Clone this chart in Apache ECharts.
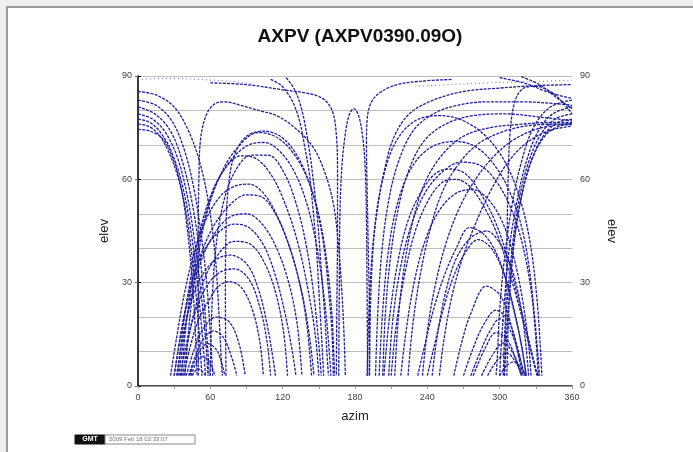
<!DOCTYPE html>
<html><head><meta charset="utf-8">
<script src="https://cdn.jsdelivr.net/npm/echarts@6/dist/echarts.min.js"></script>
<style>html,body{margin:0;padding:0;background:#efefef}#c{width:693px;height:452px}</style>
</head><body><div id="c"></div>
<script>
const chartTitle = 'AXPV (AXPV0390.09O)';
const xTicks = [0, 60, 120, 180, 240, 300, 360];
const yTicks = [0, 30, 60, 90];
const stamp = '2009 Feb 18 02:33:07';

// satellite tracks: [azimuth, elevation]
const leftFunnel = [
 [[0,74.5],[10,74],[20,72],[28,67],[35,59],[40,48],[44,35],[47,20],[49,3]],
 [[0,76],[8,75.5],[16,73.5],[24,69],[32,62],[39,52],[44,40],[48,27],[51,14],[53,3]],
 [[0,77.5],[10,76.5],[20,73],[29,67],[37,58],[43,47],[48,34],[52,20],[55,8],[56,3]],
 [[0,79],[12,77.5],[23,73.5],[33,66],[41,55],[47,42],[52,28],[56,14],[58,3]],
 [[0,81],[14,79],[27,74],[37,65],[45,53],[51,39],[55,24],[58,10],[59,3]],
 [[0,83],[15,81.5],[28,77],[38,69],[46,58],[52,45],[57,30],[60,15],[62,3]],
 [[0,85.5],[15,84.5],[30,81],[42,74],[52,64],[59,52],[64,38],[67,22],[69,8],[70,3]]
];
const leftArches = [
 [[30,3],[34,12],[39,22],[46,32],[56,40],[68,45],[80,47],[92,46],[104,41],[114,32],[122,21],[128,10],[131,3]],
 [[34,3],[38,14],[44,26],[52,36],[63,44],[76,49],[90,50],[103,47],[115,40],[125,30],[132,18],[136,3]],
 [[37,3],[41,12],[47,22],[55,31],[66,38],[80,42],[94,41],[106,35],[115,26],[121,15],[124,3]],
 [[32,3],[36,12],[42,22],[50,30],[62,36],[76,38],[90,35.5],[100,28],[107,18],[112,8],[114,3]],
 [[35,3],[40,12],[47,21],[57,29],[68,33],[80,34],[92,31],[101,23],[107,13],[110,3]],
 [[38,3],[43,11],[50,19],[59,25],[67,29],[76,30.3],[86,28.5],[95,22],[101,13],[104,3]],
 [[40,3],[46,10],[53,16],[65,20],[76,18.5],[84,12],[89,3]],
 [[42,3],[48,9],[55,14],[62.5,16],[71,14],[78,8],[82,3]],
 [[43,3],[48,8],[58,12.3],[66,10],[72,3]],
 [[44,3],[48,6.5],[53,8.5],[59,7],[64,3]],
 [[45,3],[50,5],[56,3]]
];
const bigLeftArches = [
 [[27,3],[32,14],[38,26],[46,38],[56,48],[68,55],[80,58],[92,58.6],[104,56],[116,49],[127,39],[136,27],[142,15],[146,3]],
 [[30,3],[35,14],[42,26],[51,37],[62,46],[76,52.5],[90,55.5],[102,55],[114,50],[125,41],[134,30],[140,18],[144,3]],
 [[33,3],[37,16],[43,30],[50,43],[60,55],[72,63],[85,66.8],[98,66],[111,61],[123,52],[133,41],[141,28],[147,15],[150,3]],
 [[36,3],[40,18],[46,33],[54,47],[64,58],[78,66],[92,70],[105,70.7],[118,68],[130,62],[140,53],[148,41],[154,27],[158,13],[160,3]],
 [[39,3],[43,20],[49,36],[57,50],[68,61],[82,69],[100,73.6],[116,72],[130,67],[142,59],[151,48],[157,35],[161,20],[163,3]],
 [[60,3],[61,20],[64,38],[70,52],[80,62],[94,67],[108,67],[121,62],[132,52],[140,40],[146,26],[150,12],[152,3]],
 [[50,3],[50,25],[50,46],[50.5,60],[52,72],[57,79],[64,82],[72,82.5],[85,81.5],[100,80],[115,78.5],[130,75],[145,69.5],[155,62],[162,53],[166,42],[169,28],[171,14],[172,3]],
 [[73,3],[72.5,25],[73,45],[75,58],[80,67],[90,72.5],[104,74],[118,72.5],[130,68],[140,61],[148,52],[154,41],[158,28],[161,15],[162,3]]
];
const centerTracks = [
 [[60,88],[90,87.5],[120,86],[140,85],[153,83.5],[161,80],[164.5,73],[165.5,62],[165.5,45],[165,25],[164.5,3]],
 [[260,89],[235,88.5],[215,87.5],[200,85],[193,82],[190,77],[189.5,70],[190,58],[191,40],[192,20],[192,3]],
 [[166.5,3],[167,30],[167.5,50],[169,63],[171.5,72],[175,78.5],[179,80.5],[183,78.5],[186.5,72],[188.5,63],[189.5,48],[190,28],[190.5,3]]
];
const descending = [
 [[110,89],[118,87.5],[124,85],[129,82],[134,77],[138,70],[142,62],[145,52],[148,40],[150,28],[152,16],[154,3]],
 [[123,89.5],[130,86],[136,80],[141,71],[145,61],[149,48],[152,34],[155,20],[157,8],[158,3]]
];
const rightRising = [
 [[192,3],[193,25],[195,40],[198,50],[204,62],[212,72],[225,79],[245,83],[270,85.5],[300,86.5],[330,87.2],[360,87.5]],
 [[197,3],[199,22],[202,38],[207,52],[215,64],[228,74],[245,79],[265,81.5],[290,82.5],[320,82.5],[345,82],[360,81.5]],
 [[203,3],[205,20],[209,36],[215,50],[224,62],[237,71],[255,76],[278,78.5],[305,79],[335,78],[360,77]],
 [[213,3],[216,20],[221,35],[228,48],[238,59],[252,67],[270,72.5],[292,75],[318,76],[340,76.5],[360,76.5]],
 [[224,3],[228,18],[234,32],[242,45],[252,56],[265,64],[281,70],[300,73.5],[322,75.5],[345,76],[360,76]],
 [[236,3],[240,16],[247,30],[256,42],[267,52],[280,60],[296,67],[314,72],[335,75],[360,76.2]],
 [[250,3],[254,14],[261,27],[270,38],[281,48],[293,57],[307,65],[322,70.5],[340,74],[360,75.5]]
];
const bigRightArches = [
 [[204,3],[208,18],[215,35],[224,48],[236,57],[248,62],[260,63],[272,61.5],[284,56],[296,48],[306,38],[315,26],[323,15],[330,5],[332,3]],
 [[210,3],[214,17],[221,32],[230,45],[241,54],[252,59],[263,60],[275,58],[287,52],[298,44],[308,33],[317,22],[325,11],[331,3]],
 [[208,3],[211,18],[217,33],[226,46],[238,56],[252,62],[268,65],[284,64],[298,59],[310,51],[319,41],[326,28],[330,14],[332,3]],
 [[218,3],[222,15],[229,30],[238,42],[250,51],[264,56],[278,57],[291,54],[303,47],[312,37],[319,25],[324,12],[326,3]],
 [[200,3],[203,22],[208,40],[216,54],[228,64],[244,69.5],[264,71],[282,69],[298,63],[310,55],[319,45],[325,33],[329,20],[332,8],[333,3]],
 [[190,3],[192,25],[196,45],[203,60],[214,71],[230,77],[250,78.5],[270,77],[290,72],[306,64],[318,53],[326,40],[331,25],[334,10],[335,3]]
];
const rightArches = [
 [[232,3],[238,12],[245,22],[254,32],[264,40],[275,46],[287,44],[298,38],[307,29],[314,19],[319,10],[322,3]],
 [[240,3],[246,12],[253,22],[262,32],[272,39],[282,42.5],[293,40],[303,33],[311,23],[318,12],[322,3]],
 [[244,3],[248,14],[255,27],[264,37],[276,43],[289,45],[301,41],[311,33],[318,22],[322,11],[324,3]],
 [[262,3],[268,12],[276,21],[289,29],[301,26],[310,17],[316,8],[319,3]],
 [[270,3],[278,11],[287,18],[297,22],[307,19],[315,11],[320,3]],
 [[276,3],[284,10],[292,16],[300,19.5],[309,16],[316,9],[321,3]],
 [[278,3],[288,11],[297,15.5],[307,13],[314,7],[318,3]],
 [[285,3],[294,9],[303,12.5],[312,9],[318,3]],
 [[290,3],[298,7.5],[306,9.5],[314,6.5],[319,3]],
 [[300,3],[306,6],[312,7],[318,5],[322,3]]
];
const rightFunnel = [
 [[360,76],[350,75.5],[340,73.5],[331,69],[323,62],[317,53],[312,42],[309,30],[307,17],[306,3]],
 [[360,77.5],[348,76.5],[337,73],[328,67],[320,58],[314,47],[310,35],[307,22],[305,10],[304,3]],
 [[360,79],[346,77.5],[334,73],[324,65],[316,54],[311,42],[307,28],[304,14],[303,3]],
 [[360,81],[344,79],[332,74],[322,65],[314,53],[308,40],[304,25],[301,10],[300,3]],
 [[360,83],[342,81],[328,75],[318,65],[310,52],[304,37],[300,22],[298,8],[297,3]],
 [[304,3],[305,20],[306,40],[307,60],[309,75],[313,83],[320,86.5],[330,87],[342,85.5],[352,82.5],[360,79]],
 [[300,89.5],[320,88],[335,86],[348,84.5],[360,83.5]],
 [[318,89.8],[333,87.5],[346,84],[360,80.5]]
];
const topDotted = [
 [[0,89],[25,89.3],[50,89],[75,88.5],[95,87.8]],
 [[230,87],[260,87.5],[290,88],[320,88.3],[345,88.6],[360,88.8]]
];

const trackColor = '#20209a';
const solidGroups = [leftFunnel, leftArches, bigLeftArches, centerTracks, descending, rightRising, bigRightArches, rightArches, rightFunnel];
const series = [];
solidGroups.forEach(g => g.forEach(t => series.push({
  type: 'line', data: t, xAxisIndex: 0, yAxisIndex: 0, showSymbol: false, smooth: 0.35, silent: true,
  lineStyle: { color: trackColor, width: 1.3, type: [3, 1.2] }
})));
topDotted.forEach(t => series.push({
  type: 'line', data: t, xAxisIndex: 0, yAxisIndex: 0, showSymbol: false, smooth: 0.35, silent: true,
  lineStyle: { color: '#6b6bb8', width: 1, type: [1, 3] }
}));

const chart = echarts.init(document.getElementById('c'), null, { renderer: 'canvas' });
const tickFont = { fontFamily: 'Liberation Sans', fontSize: 9, color: '#444' };
chart.setOption({
  animation: false,
  backgroundColor: '#efefef',
  title: { text: chartTitle, left: 355, top: 22, textAlign: 'center',
    textStyle: { fontFamily: 'Liberation Sans', fontWeight: 'bold', fontSize: 19, color: '#111' } },
  graphic: [
    { type: 'rect', z: -10, shape: { x: 7, y: 7, width: 720, height: 480 },
      style: { fill: '#ffffff', stroke: '#9a9a9a', lineWidth: 2 } },
    { type: 'rect', shape: { x: 75, y: 435, width: 30, height: 9 }, style: { fill: '#111', stroke: '#111' } },
    { type: 'text', x: 90, y: 439.5, style: { text: 'GMT', fill: '#fff', font: 'bold 7px Liberation Sans', textAlign: 'center', textVerticalAlign: 'middle' } },
    { type: 'rect', shape: { x: 105, y: 435, width: 90, height: 9 }, style: { fill: '#fff', stroke: '#888', lineWidth: 1 } },
    { type: 'text', x: 109, y: 439.5, style: { text: stamp, fill: '#777', font: '6px Liberation Sans', textVerticalAlign: 'middle' } }
  ],
  grid: { left: 138, right: 121, top: 76, bottom: 66, containLabel: false },
  xAxis: [
    { type: 'value', min: xTicks[0], max: xTicks[xTicks.length - 1], interval: 60, position: 'bottom',
      name: 'azim', nameLocation: 'middle', nameGap: 24,
      nameTextStyle: { fontFamily: 'Liberation Sans', fontSize: 13, color: '#222' },
      axisLine: { lineStyle: { color: '#111', width: 1.5 } },
      axisTick: { show: true, length: 3, lineStyle: { color: '#111' } },
      axisLabel: Object.assign({ margin: 7 }, tickFont),
      splitLine: { show: false } },
    { type: 'value', min: 0, max: 360, interval: 30, position: 'top',
      axisLine: { lineStyle: { color: '#999', width: 1 } },
      axisTick: { show: true, inside: true, length: 3, lineStyle: { color: '#999' } },
      axisLabel: { show: false }, splitLine: { show: false } }
  ],
  yAxis: [
    { type: 'value', min: yTicks[0], max: yTicks[yTicks.length - 1], interval: 30, position: 'left',
      name: 'elev', nameLocation: 'middle', nameGap: 27, nameRotate: 90,
      nameTextStyle: { fontFamily: 'Liberation Sans', fontSize: 13, color: '#222' },
      axisLine: { show: true, lineStyle: { color: '#999', width: 1.5 } },
      axisTick: { show: true, length: 3, lineStyle: { color: '#777' } },
      axisLabel: Object.assign({ margin: 6 }, tickFont),
      splitLine: { show: true, lineStyle: { color: '#bdbdbd', width: 1 } },
      minorTick: { show: false, splitNumber: 3 },
      minorSplitLine: { show: true, lineStyle: { color: '#bdbdbd', width: 1 } } },
    { type: 'value', min: 0, max: 90, interval: 30, position: 'right',
      name: 'elev', nameLocation: 'middle', nameGap: 33, nameRotate: -90,
      nameTextStyle: { fontFamily: 'Liberation Sans', fontSize: 13, color: '#222' },
      axisLine: { show: true, lineStyle: { color: '#111', width: 1.5 } },
      axisTick: { show: true, length: 3, lineStyle: { color: '#111' } },
      axisLabel: Object.assign({ margin: 8 }, tickFont),
      splitLine: { show: false } }
  ],
  series: series
});
</script></body></html>
